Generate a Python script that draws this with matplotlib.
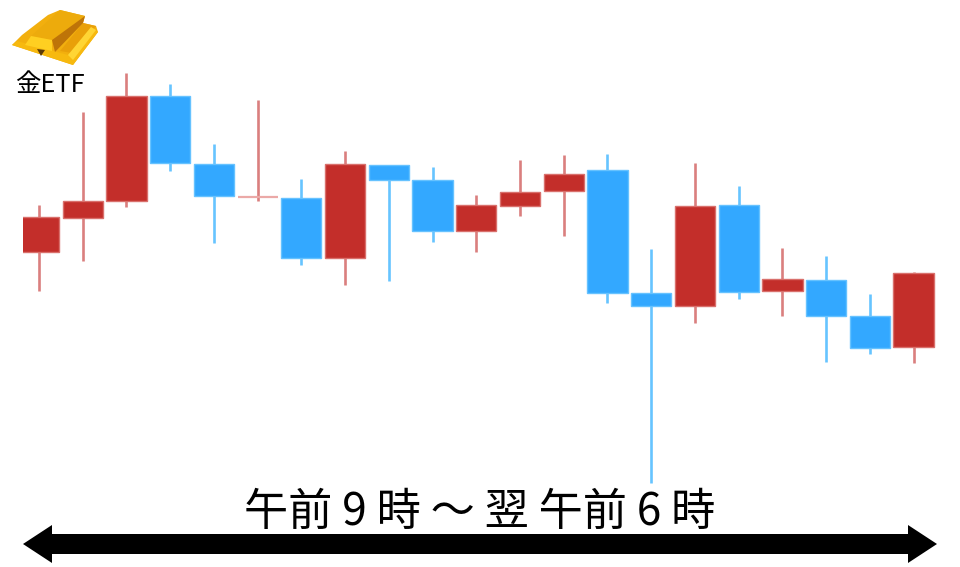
import matplotlib
matplotlib.use('Agg')
import matplotlib.pyplot as plt
from matplotlib.patches import Polygon

plt.rcParams['font.family'] = ['Noto Sans CJK JP', 'DejaVu Sans']

# height above the bottom edge
opens = [315, 349, 366, 471, 403, 370, 369, 309, 402, 387, 336, 361, 376, 397, 274, 261, 362, 276, 287, 251, 220]
closes = [350, 366, 471, 404, 371, 370, 309, 403, 387, 336, 362, 375, 393, 274, 261, 361, 275, 288, 251, 219, 294]
highs = [362, 455, 494, 483, 423, 467, 388, 416, 402, 400, 372, 407, 412, 413, 318, 404, 381, 319, 311, 273, 295]
lows = [276, 306, 360, 396, 324, 366, 302, 282, 286, 325, 315, 351, 331, 264, 84, 244, 268, 251, 205, 213, 204]

RED = '#C32E2A'
RED_EDGE = '#D9706C'
RED_WICK = '#DA7F7E'
BLUE = '#33A8FF'
BLUE_EDGE = '#66C2FF'
BLUE_WICK = '#66C4FF'

fig = plt.figure(figsize=(9.6, 5.67), dpi=100)

# candles, the first one is cut by the left edge of the axes
ax = fig.add_axes([23 / 960, 0, 937 / 960, 1])
step = 43.73
ax.set_xlim((23 - 39.0) / step, (960 - 39.0) / step)
ax.set_ylim(0, 567)
ax.axis('off')

xs = range(len(opens))
for i in xs:
    up = closes[i] >= opens[i]
    ax.vlines(i, lows[i], highs[i], color=RED_WICK if up else BLUE_WICK, lw=1.9, zorder=1)
    if opens[i] == closes[i]:
        ax.hlines(opens[i], i - 0.46, i + 0.46, color='#EBA9A7', lw=1.6, zorder=2)
    else:
        ax.bar(i, abs(closes[i] - opens[i]), bottom=min(opens[i], closes[i]), width=0.92,
               color=RED if up else BLUE, edgecolor=RED_EDGE if up else BLUE_EDGE, lw=1, zorder=2)

# overlay in pixels for the icon, label and arrow
ov = fig.add_axes([0, 0, 1, 1])
ov.set_xlim(0, 960)
ov.set_ylim(567, 0)
ov.axis('off')
ov.patch.set_alpha(0)

# gold bars
ov.add_patch(Polygon([(12, 45), (22, 35), (48, 15), (60, 10), (85, 16), (83, 23), (96, 26), (98, 32), (73, 65)],
                     fc='#F2AF0E', ec='none'))
ov.add_patch(Polygon([(12, 45), (17, 41), (68, 55), (91, 27), (98, 32), (73, 65)], fc='#F7B90F', ec='none'))
ov.add_patch(Polygon([(83, 23), (96, 26), (72, 53), (60, 51)], fc='#E9A009', ec='none'))
ov.add_patch(Polygon([(68, 55), (91, 27), (96, 30), (73, 60)], fc='#FFD534', ec='none'))
ov.add_patch(Polygon([(31, 36), (60, 10), (85, 16), (52, 40)], fc='#EDAB0C', ec='none'))
ov.add_patch(Polygon([(31, 36), (52, 40), (52, 51), (25, 45)], fc='#FFCF21', ec='none'))
ov.add_patch(Polygon([(52, 40), (85, 16), (83, 23), (55, 52)], fc='#BE7408', ec='none'))
ov.add_patch(Polygon([(37, 49), (45, 50), (41, 56)], fc='#5E3A06', ec='none'))

ov.text(15, 85, '金ETF', fontsize=18.3, color='black', ha='left', va='center')
ov.text(480, 512, '午前 9 時 ～ 翌 午前 6 時', fontsize=31.8, color='black', ha='center', va='center')

ov.add_patch(Polygon([(23, 544), (52, 525), (52, 534), (908, 534), (908, 525), (937, 544),
                      (908, 563), (908, 554), (52, 554), (52, 563)], fc='black', ec='none'))

fig.savefig('out.png', dpi=100)
